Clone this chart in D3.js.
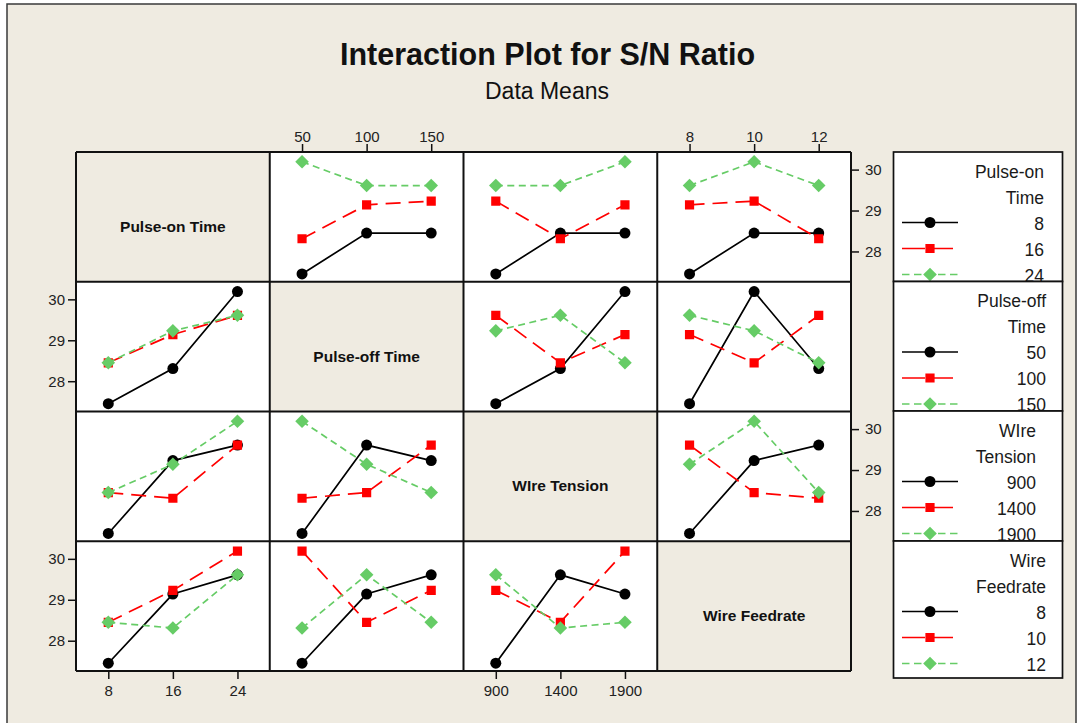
<!DOCTYPE html>
<html>
<head>
<meta charset="utf-8">
<script src="https://cdn.jsdelivr.net/npm/d3@7"></script>
<style>
  html, body { margin: 0; padding: 0; background: #ffffff; }
  svg { display: block; }
  text { font-family: "Liberation Sans", Arial, sans-serif; }
</style>
</head>
<body>
<svg id="chart" width="1079" height="723"></svg>
<script>
// ---- factors and their levels ----
const factorNames = ["Pulse-on Time", "Pulse-off Time", "WIre Tension", "Wire Feedrate"];
const legendTitles = [["Pulse-on", "Time"], ["Pulse-off", "Time"], ["WIre", "Tension"], ["Wire", "Feedrate"]];
const pulseOnLevels = [8, 16, 24];
const pulseOffLevels = [50, 100, 150];
const tensionLevels = [900, 1400, 1900];
const feedrateLevels = [8, 10, 12];

// ---- L9 experiment runs: factor settings and S/N ratio of each run ----
const runPulseOn  = [8, 8, 8, 16, 16, 16, 24, 24, 24];
const runPulseOff = [50, 100, 150, 50, 100, 150, 50, 100, 150];
const runTension  = [900, 1400, 1900, 1400, 1900, 900, 1900, 900, 1400];
const runFeedrate = [8, 10, 12, 12, 8, 10, 10, 12, 8];
const snRatio     = [27.45, 28.45, 28.45, 28.31, 29.14, 29.23, 30.19, 29.61, 29.61];

const yTicks = [28, 29, 30];
const yDomain = [27.26, 30.43];

const levels = [pulseOnLevels, pulseOffLevels, tensionLevels, feedrateLevels];
const runs = [runPulseOn, runPulseOff, runTension, runFeedrate];

// ---- layout ----
const W = 1079, H = 723;
const gridLeft = 76, gridTop = 152, cellW = 193.75, cellH = 129.75;
const beige = "#efebe1";
const traceStyles = [
  { color: "#000000", dash: null,     marker: "circle" },
  { color: "#ff0000", dash: "15,8",   marker: "square" },
  { color: "#66cc66", dash: "7,4.5",  marker: "diamond" }
];

const markerPath = {
  circle: "M5.5,0A5.5,5.5 0 1,1 -5.5,0A5.5,5.5 0 1,1 5.5,0Z",
  square: "M-4.6,-4.6H4.6V4.6H-4.6Z",
  diamond: "M0,-6.8L6.8,0L0,6.8L-6.8,0Z"
};

const svg = d3.select("#chart");

// page background and frame
svg.append("rect").attr("x", 7).attr("y", 4).attr("width", 1069).attr("height", 730)
  .attr("fill", beige).attr("stroke", "#3a3a3a").attr("stroke-width", 1.5);

// title
svg.append("text").attr("x", 547.5).attr("y", 65).attr("text-anchor", "middle")
  .attr("font-size", 30.5).attr("font-weight", "bold").attr("fill", "#111")
  .text("Interaction Plot for S/N Ratio");
svg.append("text").attr("x", 547).attr("y", 98.5).attr("text-anchor", "middle")
  .attr("font-size", 23).attr("fill", "#111")
  .text("Data Means");

// cell mean: response at level a of factor i and level b of factor j
function cellMean(i, a, j, b) {
  const vals = snRatio.filter((v, k) => runs[i][k] === a && runs[j][k] === b);
  return d3.mean(vals);
}

const n = factorNames.length;
const plot = svg.append("g");

for (let r = 0; r < n; r++) {
  for (let c = 0; c < n; c++) {
    const x0 = gridLeft + c * cellW, y0 = gridTop + r * cellH;
    const g = plot.append("g");
    g.append("rect").attr("x", x0).attr("y", y0).attr("width", cellW).attr("height", cellH)
      .attr("fill", r === c ? beige : "#ffffff");
    if (r === c) {
      g.append("text").attr("x", x0 + cellW / 2).attr("y", y0 + cellH / 2 + 15)
        .attr("text-anchor", "middle").attr("font-size", 15.5).attr("font-weight", "bold")
        .attr("fill", "#111").text(factorNames[r]);
      continue;
    }
    const x = d3.scalePoint().domain(levels[c]).range([x0, x0 + cellW]).padding(0.5);
    const y = d3.scaleLinear().domain(yDomain).range([y0 + cellH, y0]);
    const clipId = `clip-${r}-${c}`;
    g.append("clipPath").attr("id", clipId).append("rect")
      .attr("x", x0).attr("y", y0).attr("width", cellW).attr("height", cellH);
    const inner = g.append("g").attr("clip-path", `url(#${clipId})`);
    levels[r].forEach((a, t) => {
      const st = traceStyles[t];
      const pts = levels[c].map(b => [x(b), y(cellMean(r, a, c, b))]);
      inner.append("path").attr("d", d3.line()(pts)).attr("fill", "none")
        .attr("stroke", st.color).attr("stroke-width", 1.7)
        .attr("stroke-dasharray", st.dash);
      inner.selectAll(null).data(pts).join("path")
        .attr("transform", d => `translate(${d[0]},${d[1]})`)
        .attr("d", markerPath[st.marker]).attr("fill", st.color);
    });
  }
}

// grid lines
const gridLines = plot.append("g").attr("stroke", "#111").attr("stroke-width", 2);
for (let k = 0; k <= n; k++) {
  gridLines.append("line").attr("x1", gridLeft + k * cellW).attr("x2", gridLeft + k * cellW)
    .attr("y1", gridTop).attr("y2", gridTop + n * cellH);
  gridLines.append("line").attr("y1", gridTop + k * cellH).attr("y2", gridTop + k * cellH)
    .attr("x1", gridLeft).attr("x2", gridLeft + n * cellW);
}

// axes: x labels alternate bottom/top, y labels alternate right/left
function styleAxis(sel) {
  sel.select(".domain").remove();
  sel.selectAll(".tick line").attr("stroke", "#111").attr("stroke-width", 1.5);
  sel.selectAll(".tick text").attr("fill", "#222").attr("font-size", 15)
    .attr("font-family", "'Liberation Sans', Arial, sans-serif");
}
for (let c = 0; c < n; c++) {
  const x0 = gridLeft + c * cellW;
  const x = d3.scalePoint().domain(levels[c]).range([x0, x0 + cellW]).padding(0.5);
  if (c % 2 === 0) {
    svg.append("g").attr("transform", `translate(0,${gridTop + n * cellH})`)
      .call(d3.axisBottom(x).tickSize(8).tickPadding(6)).call(styleAxis);
  } else {
    svg.append("g").attr("transform", `translate(0,${gridTop})`)
      .call(d3.axisTop(x).tickSize(8).tickPadding(2)).call(styleAxis);
  }
}
for (let r = 0; r < n; r++) {
  const y0 = gridTop + r * cellH;
  const y = d3.scaleLinear().domain(yDomain).range([y0 + cellH, y0]);
  const fmt = d3.format("d");
  if (r % 2 === 0) {
    svg.append("g").attr("transform", `translate(${gridLeft + n * cellW},0)`)
      .call(d3.axisRight(y).tickValues(yTicks).tickFormat(fmt).tickSize(8).tickPadding(6)).call(styleAxis);
  } else {
    svg.append("g").attr("transform", `translate(${gridLeft},0)`)
      .call(d3.axisLeft(y).tickValues(yTicks).tickFormat(fmt).tickSize(8).tickPadding(3)).call(styleAxis);
  }
}

// legends, one box per factor
const legendX = 893.5, legendW = 169;
const legendTops = [152, 281.5, 411, 541];
const legendHeights = [129.5, 129.5, 130, 137];
const legendTextRight = [1044, 1046, 1036, 1046];
const legendLines = [
  { x1: 902, x2: 958, dash: null },
  { x1: 902, x2: 953, dash: "23,5" },
  { x1: 902, x2: 958, dash: "7.5,4.5" }
];
for (let f = 0; f < n; f++) {
  const top = legendTops[f], h = legendHeights[f];
  const clipId = `legclip-${f}`;
  svg.append("clipPath").attr("id", clipId).append("rect")
    .attr("x", legendX).attr("y", top).attr("width", legendW).attr("height", h);
  const box = svg.append("g");
  box.append("rect").attr("x", legendX).attr("y", top).attr("width", legendW).attr("height", h)
    .attr("fill", "#ffffff");
  const content = box.append("g").attr("clip-path", `url(#${clipId})`);
  const base = i => top + 25.5 + i * 26;
  legendTitles[f].forEach((s, i) => {
    content.append("text").attr("x", legendTextRight[f]).attr("y", base(i))
      .attr("text-anchor", "end").attr("font-size", 17.5).attr("fill", "#1a1a1a").text(s);
  });
  levels[f].forEach((lv, t) => {
    const st = traceStyles[t], ln = legendLines[t];
    const yy = base(t + 2) - 7;
    content.append("line").attr("x1", ln.x1).attr("x2", ln.x2).attr("y1", yy).attr("y2", yy)
      .attr("stroke", st.color).attr("stroke-width", 1.7).attr("stroke-dasharray", ln.dash);
    content.append("path").attr("transform", `translate(930,${yy})`)
      .attr("d", markerPath[st.marker]).attr("fill", st.color);
    content.append("text").attr("x", legendTextRight[f]).attr("y", base(t + 2))
      .attr("text-anchor", "end").attr("font-size", 17.5).attr("fill", "#1a1a1a").text(lv);
  });
  box.append("rect").attr("x", legendX).attr("y", top).attr("width", legendW).attr("height", h)
    .attr("fill", "none").attr("stroke", "#111").attr("stroke-width", 1.7);
}
</script>
</body>
</html>
